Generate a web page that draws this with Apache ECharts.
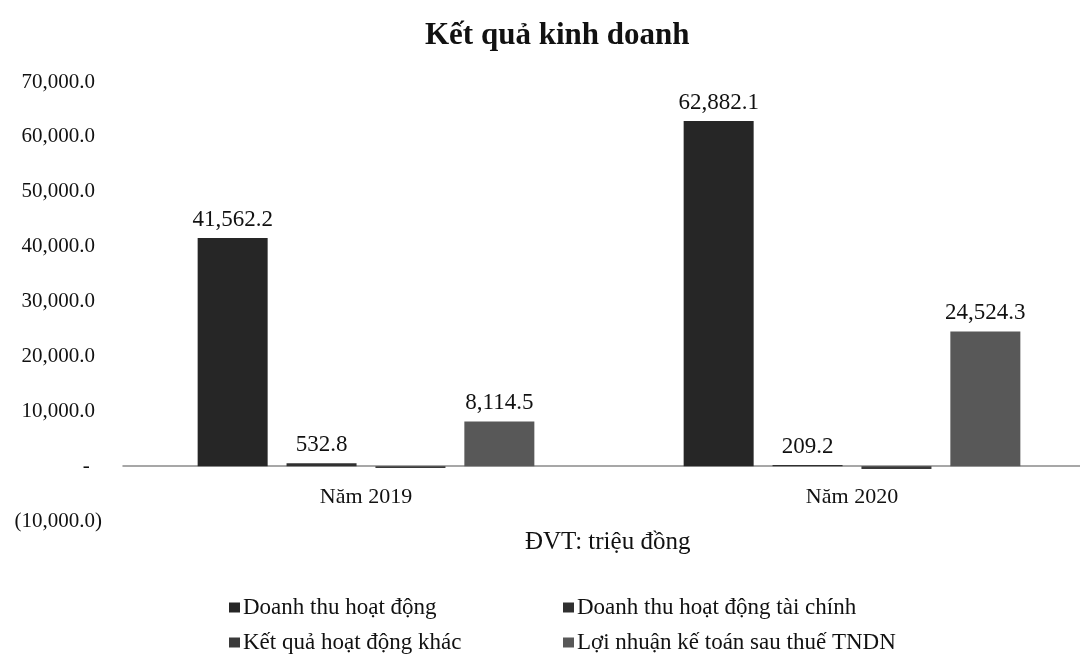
<!DOCTYPE html>
<html>
<head>
<meta charset="utf-8">
<script src="https://cdn.jsdelivr.net/npm/echarts@6/dist/echarts.min.js"></script>
<style>
  html, body { margin: 0; padding: 0; background: #fff; }
  #chart { width: 1080px; height: 656px; }
</style>
</head>
<body>
<div id="chart"></div>
<script>
// data
const categories = ['Năm 2019', 'Năm 2020'];
const seriesNames = [
  'Doanh thu hoạt động',
  'Doanh thu hoạt động tài chính',
  'Kết quả hoạt động khác',
  'Lợi nhuận kế toán sau thuế TNDN'
];
const doanhThu = [41562.2, 62882.1];
const doanhThuTaiChinh = [532.8, 209.2];
const ketQuaKhac = [-350, -520];
const loiNhuan = [8114.5, 24524.3];
const yTicks = { min: -10000, max: 70000, step: 10000 };

const FONT = '"Liberation Serif", "Times New Roman", serif';
const colors = ['#262626', '#303030', '#3a3a3a', '#585858'];

function fmt(v) {
  return v.toLocaleString('en-US', { minimumFractionDigits: 1, maximumFractionDigits: 1 });
}

const chart = echarts.init(document.getElementById('chart'));

const allData = [doanhThu, doanhThuTaiChinh, ketQuaKhac, loiNhuan];
const series = seriesNames.map((name, i) => ({
  name: name,
  type: 'bar',
  data: allData[i],
  barWidth: 70,
  barGap: '27%',
  itemStyle: { color: colors[i] },
  label: {
    show: i !== 2, // no label on the small negative bar
    position: 'top',
    distance: 7,
    fontFamily: FONT,
    fontSize: 23,
    color: '#111',
    formatter: p => fmt(p.value)
  }
}));

// legend items laid out in two rows of two
const legendPos = [[224, 591], [558, 591], [224, 626], [558, 626]];
const legends = seriesNames.map((name, i) => ({
  data: [name],
  left: legendPos[i][0],
  top: legendPos[i][1],
  icon: 'rect',
  itemWidth: 11,
  itemHeight: 10,
  selectedMode: false,
  textStyle: { fontFamily: FONT, fontSize: 23, color: '#111', padding: [0, 0, 0, -2] }
}));

const option = {
  backgroundColor: '#fff',
  animation: false,
  title: {
    text: 'Kết quả kinh doanh',
    left: 420,
    top: 15,
    textStyle: { fontFamily: FONT, fontSize: 31, fontWeight: 'bold', color: '#111' }
  },
  legend: legends,
  grid: { left: 123, width: 972, top: 82, bottom: 135, containLabel: false, outerBoundsMode: 'none' },
  xAxis: {
    type: 'category',
    data: categories,
    axisTick: { show: false },
    axisLine: { lineStyle: { color: '#8a8a8a', width: 1.5 } },
    // labels sit just under the zero line, not at the grid bottom
    axisLabel: { fontFamily: FONT, fontSize: 22, color: '#111', margin: -35 }
  },
  yAxis: {
    type: 'value',
    min: yTicks.min,
    max: yTicks.max,
    interval: yTicks.step,
    splitLine: { show: false },
    axisLine: { show: false },
    axisTick: { show: false },
    axisLabel: {
      margin: 21,
      formatter: v => {
        if (v === 0) return '{v|-}{h| )}';
        if (v < 0) return '{v|(' + fmt(-v) + ')}';
        return '{v|' + fmt(v) + '}{h|)}';
      },
      rich: {
        v: { fontFamily: FONT, fontSize: 21, color: '#111' },
        h: { fontFamily: FONT, fontSize: 21, color: 'rgba(0,0,0,0)' }
      }
    }
  },
  graphic: [{
    type: 'text',
    left: 525,
    top: 530,
    style: { text: 'ĐVT: triệu đồng', fontFamily: FONT, fontSize: 25, fill: '#111' }
  }],
  series: series
};

chart.setOption(option);
</script>
</body>
</html>
